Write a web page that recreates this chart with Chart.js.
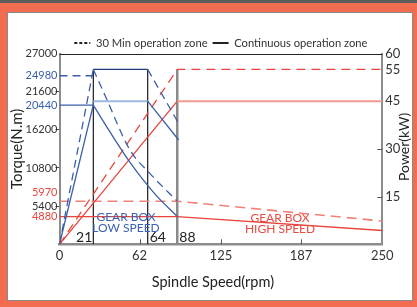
<!DOCTYPE html>
<html><head><meta charset="utf-8">
<script src="https://cdn.jsdelivr.net/npm/chart.js@4.4.1/dist/chart.umd.min.js"></script>
<style>
html,body{margin:0;padding:0;}
body{width:417px;height:307px;background:#f26c4f;position:relative;overflow:hidden;font-family:Lato,sans-serif}
#bar{position:absolute;left:0;top:0;width:417px;height:3px;background:#5c5c5c}
#panel{position:absolute;left:8px;top:13px;width:404px;height:287px;background:#fff;box-shadow:0 0 0 1px #8a8a8a}
canvas{display:block}
</style></head><body>
<div id="bar"></div>
<div id="panel"><canvas id="chart" width="404" height="287"></canvas></div>
<script>
// ---------- axis ticks ----------
const speedTicks = [0, 62, 125, 187, 250];
const torqueTickValues = [3920, 5400, 7300, 10800, 16200, 19700, 21600, 23850, 27000];
const torqueTickLabels = ['4880', '5400', '5970', '10800', '16200', '20440', '21600', '24980', '27000'];
const torqueTickColors = ['#e8453c', '#333', '#e8453c', '#333', '#333', '#3b5fae', '#333', '#3b5fae', '#333'];
const powerTickValues = [15, 30, 45, 55, 60];

// ---------- zone boundaries (rpm) ----------
const boundaryRpm = [26.2, 68.3, 91.2];
const boundaryLabels = ['21', '64', '88'];

// ---------- LOW SPEED gear box (blue) ----------
const lowRefContRpm = [0, 26.2];
const lowRefContTorque = [19700, 19700];
const lowRef30Rpm = [0, 25.7];
const lowRef30Torque = [23850, 23850];
const lowCurveContRpm = [26.2, 39.1, 54.6, 74.0, 91.2];
const lowCurveContTorque = [19700, 15900, 11600, 7100, 3920];
const lowCurve30Rpm = [26.2, 35.2, 54.6, 70.1, 91.2];
const lowCurve30Torque = [24750, 21100, 13330, 10000, 6100];
const lowPower30Rpm = [0, 26.2, 68.3, 92.3];
const lowPower30 = [0, 55, 55, 38.0];
const lowPowerContRpm = [0, 26.2, 26.2, 68.3, 92.3];
const lowPowerCont = [0, 43.8, 45, 45, 32.8];

// ---------- HIGH SPEED gear box (red) ----------
const highRpm = [0, 91.2, 250];
const highPower30 = [0, 55, 55];
const highPowerCont = [0, 45, 45];
const highTorque30 = [6100, 6100, 3290];
const highTorqueCont = [3920, 3920, 1950];

const legendTexts = ['30 Min operation zone', 'Continuous operation zone'];

// ---------- styles ----------
const BLUE = '#3d5fa8', NAVY = '#1f3a78', LBLUE = '#9db7df';
const RED = '#e8453c', LRED = '#f29a92', PRED = '#f08178';
const FONT = 'Lato';

const pts = (xs, ys) => xs.map((x, i) => ({x, y: ys[i]}));
const base = {pointRadius: 0, fill: false, borderWidth: 1.3, tension: 0};

const datasets = [
  {...base, data: pts(lowRef30Rpm, lowRef30Torque), yAxisID: 'y', borderColor: BLUE, borderDash: [8, 5]},
  {...base, data: pts(lowRefContRpm, lowRefContTorque), yAxisID: 'y', borderColor: BLUE},
  {...base, data: pts(lowCurve30Rpm, lowCurve30Torque), yAxisID: 'y', borderColor: BLUE, borderDash: [8, 5], cubicInterpolationMode: 'monotone'},
  {...base, data: pts(lowCurveContRpm, lowCurveContTorque), yAxisID: 'y', borderColor: BLUE, cubicInterpolationMode: 'monotone'},
  {...base, data: pts(lowPower30Rpm, lowPower30), yAxisID: 'power', borderColor: BLUE,
    segment: {
      borderColor: c => c.p0DataIndex === 1 ? NAVY : BLUE,
      borderDash: c => c.p0DataIndex === 1 ? [] : [8, 5]
    }},
  {...base, data: pts(lowPowerContRpm, lowPowerCont), yAxisID: 'power', borderColor: BLUE,
    segment: {
      borderColor: c => c.p0DataIndex === 2 ? LBLUE : BLUE,
      borderWidth: c => c.p0DataIndex === 2 ? 2 : 1.3
    }},
  {...base, data: pts(highRpm, highPower30), yAxisID: 'power', borderColor: RED, borderDash: [9, 6]},
  {...base, data: pts(highRpm, highPowerCont), yAxisID: 'power', borderColor: RED,
    segment: {
      borderColor: c => c.p0DataIndex === 1 ? LRED : RED,
      borderWidth: c => c.p0DataIndex === 1 ? 2 : 1.3
    }},
  {...base, data: pts(highRpm, highTorque30), yAxisID: 'y', borderColor: PRED, borderDash: [10, 6], borderWidth: 1.6},
  {...base, data: pts(highRpm, highTorqueCont), yAxisID: 'y', borderColor: RED},
  ...boundaryRpm.map((r, i) => ({...base, data: pts([r, r], [0, 55]), yAxisID: 'power',
    borderColor: i === 2 ? '#8a8a8a' : '#1a1a1a', borderWidth: i === 2 ? 2.5 : 1.2}))
];

const gearNotes = [
  {lines: ['GEAR BOX', 'LOW SPEED'], rpm: 51.5, torque: 3860, color: '#3b62b5'},
  {lines: ['GEAR BOX', 'HIGH SPEED'], rpm: 170.8, torque: 3720, color: '#ea4b40'}
];

const extras = {
  id: 'extras',
  afterDatasetsDraw(chart) {
    const {ctx, chartArea: a, scales: {x, y, power}} = chart;
    ctx.save();
    // top frame line
    ctx.strokeStyle = '#222'; ctx.lineWidth = 1;
    ctx.beginPath(); ctx.moveTo(a.left, Math.round(a.top) + 0.5); ctx.lineTo(a.right, Math.round(a.top) + 0.5); ctx.stroke();
    // inside tick marks
    ctx.strokeStyle = '#555'; ctx.lineWidth = 1;
    speedTicks.slice(1, -1).forEach(v => {
      const px = Math.round(x.getPixelForValue(v)) + 0.5;
      ctx.beginPath(); ctx.moveTo(px, a.bottom); ctx.lineTo(px, a.bottom - 5); ctx.stroke();
    });
    powerTickValues.slice(0, 2).forEach(v => {
      const py = Math.round(power.getPixelForValue(v)) + 0.5;
      ctx.beginPath(); ctx.moveTo(a.right, py); ctx.lineTo(a.right - 5, py); ctx.stroke();
    });
    // boundary labels
    ctx.font = '14px ' + FONT; ctx.fillStyle = '#222'; ctx.textBaseline = 'alphabetic';
    boundaryRpm.forEach((r, i) => {
      const px = x.getPixelForValue(r);
      ctx.textAlign = i === 0 ? 'right' : 'left';
      ctx.fillText(boundaryLabels[i], px + (i === 0 ? -1 : 2), a.bottom - 2);
    });
    // gear box notes
    ctx.font = '12px ' + FONT; ctx.textAlign = 'center'; ctx.textBaseline = 'middle';
    gearNotes.forEach(n => {
      const px = x.getPixelForValue(n.rpm), py = y.getPixelForValue(n.torque);
      ctx.fillStyle = n.color;
      n.lines.forEach((t, k) => ctx.fillText(t, px, py + k * 11));
    });
    ctx.restore();
  },
  afterDraw(chart) {
    const {ctx, chartArea: a} = chart;
    ctx.save();
    ctx.fillStyle = '#222'; ctx.textAlign = 'center'; ctx.textBaseline = 'middle';
    // x-axis title
    ctx.font = '14.5px ' + FONT;
    ctx.fillText('Spindle Speed(rpm)', (a.left + a.right) / 2 - 8, a.bottom + 38);
    // right axis title (reads bottom to top)
    ctx.font = '14px ' + FONT;
    ctx.translate(chart.width - 8, (a.top + a.bottom) / 2 - 2);
    ctx.rotate(-Math.PI / 2);
    ctx.fillText('Power(kW)', 0, 0);
    ctx.restore();
  }
};

new Chart(document.getElementById('chart'), {
  type: 'line',
  data: {datasets},
  options: {
    responsive: false, animation: false, events: [],
    layout: {padding: {top: 19.5, left: 0, right: 0, bottom: 0}},
    plugins: {
      tooltip: {enabled: false},
      legend: {
        position: 'top', fullSize: false, maxHeight: 21,
        labels: {
          usePointStyle: true, pointStyleWidth: 16, boxHeight: 11, padding: 5,
          color: '#333', font: {family: FONT, size: 11.2},
          generateLabels: () => legendTexts.map((t, i) => ({
            text: t, fillStyle: '#222', strokeStyle: '#222', lineWidth: 2,
            lineDash: i === 0 ? [3, 2] : [], pointStyle: 'line', hidden: false, fontColor: '#333'
          }))
        }
      }
    },
    scales: {
      x: {
        type: 'linear', min: 0, max: 250,
        afterFit: s => { s.height = 55.7; },
        afterBuildTicks: s => { s.ticks = speedTicks.map(v => ({value: v})); },
        grid: {drawOnChartArea: false, drawTicks: false},
        border: {color: '#8c8c8c', width: 2.5},
        ticks: {padding: 4, color: '#333', font: {family: FONT, size: 13}, maxRotation: 0, callback: v => String(v)}
      },
      y: {
        type: 'linear', position: 'left', min: 0, max: 27000,
        afterFit: s => { s.width = 51.5; },
        afterBuildTicks: s => { s.ticks = torqueTickValues.map(v => ({value: v})); },
        grid: {
          drawOnChartArea: false, drawTicks: true, tickLength: 4,
          tickColor: c => ['5400', '10800', '16200', '21600'].includes(torqueTickLabels[c.index]) ? '#444' : 'rgba(0,0,0,0)'
        },
        border: {color: '#8c8c8c', width: 2},
        ticks: {
          padding: -2, font: {family: FONT, size: 11},
          color: c => torqueTickColors[c.index],
          callback: (v, i) => torqueTickLabels[i]
        },
        title: {display: true, text: 'Torque(N.m)', color: '#222', font: {family: FONT, size: 15}, padding: {top: 0, bottom: 0}}
      },
      power: {
        type: 'linear', position: 'right', min: 0, max: 60,
        afterFit: s => { s.width = 29.7; },
        afterBuildTicks: s => { s.ticks = powerTickValues.map(v => ({value: v})); },
        grid: {drawOnChartArea: false, drawTicks: false},
        border: {color: '#8c8c8c', width: 2},
        ticks: {padding: 3, color: '#333', font: {family: FONT, size: 13}, callback: v => String(v)}
      }
    }
  },
  plugins: [extras]
});
</script>
</body></html>
